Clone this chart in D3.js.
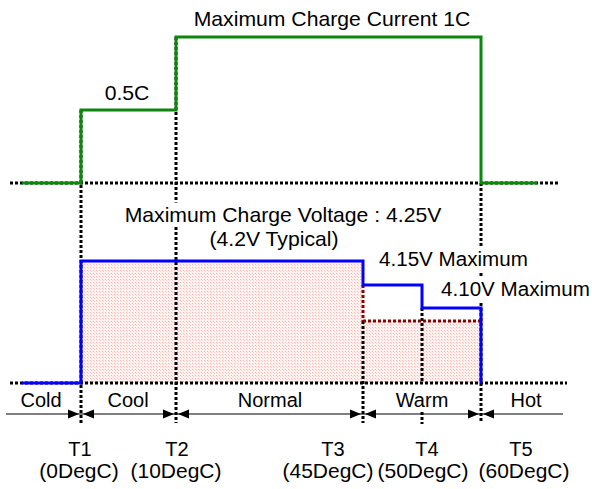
<!DOCTYPE html>
<html>
<head>
<meta charset="utf-8">
<script src="https://cdn.jsdelivr.net/npm/d3@7"></script>
<style>
  html, body { margin: 0; padding: 0; background: #fff; }
  svg { display: block; font-family: "Liberation Sans", Arial, sans-serif; }
</style>
</head>
<body>
<svg id="chart" width="592" height="489"></svg>
<script>
// ---- data ----
const breakTemps = [0, 10, 45, 50, 60];                 // degC at T1..T5
const breakLabels = ["T1", "T2", "T3", "T4", "T5"];
const breakTempLabels = ["(0DegC)", "(10DegC)", "(45DegC)", "(50DegC)", "(60DegC)"];
const zoneNames = ["Cold", "Cool", "Normal", "Warm", "Hot"];
// segments: [<T1], [T1,T2], [T2,T3], [T3,T4], [T4,T5], [>T5]
const chargeCurrentC = [0, 0.5, 1, 1, 1, 0];
const maxVoltage = [0, 4.25, 4.25, 4.15, 4.10, 0];
const filledVoltage = [0, 4.25, 4.25, 4.05, 4.05, 0];
const arrowBreaks = [true, true, true, false, true];

const textLabels = {
  current: "Maximum Charge Current  1C",
  half: "0.5C",
  volt1: "Maximum Charge Voltage : 4.25V",
  volt2: "(4.2V Typical)",
  v415: "4.15V Maximum",
  v410: "4.10V Maximum"
};

// ---- layout ----
const svg = d3.select("#chart");
const leftEnd = -8, rightEnd = 68;
const x = d3.scaleLinear()
  .domain([leftEnd, ...breakTemps, rightEnd])
  .range([22, 81, 176, 363, 422, 481, 537]);
const yC = d3.scaleLinear().domain([0, 1]).range([183, 37]);
const yV = d3.scaleLinear().domain([0, 4.05, 4.10, 4.15, 4.25]).range([383, 321, 308, 285, 261]);

const edges = [leftEnd, ...breakTemps, rightEnd];
const fontSize = 20;

// hatch pattern
const defs = svg.append("defs");
const pat = defs.append("pattern").attr("id", "hatch")
  .attr("patternUnits", "userSpaceOnUse").attr("width", 3).attr("height", 3);
pat.append("rect").attr("width", 3).attr("height", 3).attr("fill", "#fdf2f0");
pat.append("rect").attr("width", 1).attr("height", 1).attr("fill", "#f4b8b0");
pat.append("rect").attr("x", 1).attr("y", 1).attr("width", 1).attr("height", 1).attr("fill", "#f8d2cc");

function dotted(sel, x1, y1, x2, y2, color) {
  sel.append("line").attr("x1", x1).attr("y1", y1).attr("x2", x2).attr("y2", y2)
    .attr("stroke", color || "#000").attr("stroke-width", 3).attr("stroke-dasharray", "3,2");
}

// filled area
const area = d3.area().x(d => d[0]).y0(yV(0)).y1(d => d[1]);
const fillPts = [];
for (let i = 1; i <= 4; i++) {
  fillPts.push([x(edges[i]), yV(filledVoltage[i])]);
  fillPts.push([x(edges[i + 1]), yV(filledVoltage[i])]);
}
svg.append("path").attr("d", area(fillPts)).attr("fill", "url(#hatch)");

const g = svg.append("g");
// horizontal baselines
dotted(g, 10, yC(0), 559, yC(0));
dotted(g, 10, yV(0), 567, yV(0));

// vertical break lines
const arrowY = 414, bottomY = 423;
dotted(g, x(0), yC(0.5), x(0), bottomY);
dotted(g, x(10), yC(1), x(10), bottomY);
dotted(g, x(45), yV(4.05), x(45), bottomY);
dotted(g, x(45), yV(4.15), x(45), yV(4.05), "#8b0000");
dotted(g, x(50), yV(4.10), x(50), yV(0));
dotted(g, x(50), arrowY - 2, x(50), bottomY + 1);
dotted(g, x(60), yC(0), x(60), bottomY);
// reduced voltage dotted line (red)
dotted(g, x(45), yV(4.05), x(60), yV(4.05), "#8b0000");

// text with white backgrounds
function label(txt, cx, by, anchor, bg, sx) {
  const t = svg.append("text").attr("x", 0).attr("y", 0)
    .attr("transform", `translate(${cx},${by}) scale(${sx || 1.06},1)`)
    .attr("text-anchor", anchor || "middle")
    .attr("font-size", fontSize).attr("fill", "#000").text(txt);
  if (bg) {
    const b = t.node().getBBox();
    svg.insert("rect", function () { return t.node(); })
      .attr("transform", t.attr("transform"))
      .attr("x", b.x - 2).attr("y", b.y - 1).attr("width", b.width + 4).attr("height", b.height + 2)
      .attr("fill", "#fff");
  }
  return t;
}

// lines
const stepPts = (vals, yScale, n) => {
  const pts = [];
  for (let i = 0; i < n; i++) {
    pts.push([x(edges[i]), yScale(vals[i])]);
    pts.push([x(edges[i + 1]), yScale(vals[i])]);
  }
  return pts;
};
const line = d3.line();
label(textLabels.current, 332, 26);
label(textLabels.half, 127, 100);
label(textLabels.volt1, 283, 222, "middle", true);
label(textLabels.volt2, 274, 246, "middle", true);
label(textLabels.v415, 379, 266, "start", true, 1.03);
label(textLabels.v410, 441, 296, "start", true, 1.03);

svg.append("path").attr("d", line(stepPts(chargeCurrentC, yC, 6)))
  .attr("fill", "none").attr("stroke", "#0b870b").attr("stroke-width", 3);
const bluePts = stepPts(maxVoltage, yV, 5);
bluePts.push([x(breakTemps[4]), yV(0)]);
svg.append("path").attr("d", line(bluePts))
  .attr("fill", "none").attr("stroke", "#0000ff").attr("stroke-width", 3);

// arrow row
svg.append("line").attr("x1", 6).attr("y1", arrowY).attr("x2", 563).attr("y2", arrowY)
  .attr("stroke", "#000").attr("stroke-width", 1.2);
breakTemps.forEach((t, i) => {
  if (!arrowBreaks[i]) return;
  const cx = x(t);
  svg.append("path").attr("d", `M${cx - 2},${arrowY} L${cx - 13},${arrowY - 4.5} L${cx - 13},${arrowY + 4.5} Z`).attr("fill", "#000");
  svg.append("path").attr("d", `M${cx + 2},${arrowY} L${cx + 13},${arrowY - 4.5} L${cx + 13},${arrowY + 4.5} Z`).attr("fill", "#000");
});

// zone labels
const zoneCenters = [41, 128, 270, 422, 526];
zoneNames.forEach((z, i) => label(z, zoneCenters[i], 407, "middle", false, 1.0));

// break labels
const tNudge = [-1, 1, -30, 5, 40];
const degNudge = [-2, 0, -35, 1, 43];
breakTemps.forEach((t, i) => {
  label(breakLabels[i], x(t) + tNudge[i], 456, "middle", false, 1.0);
  label(breakTempLabels[i], x(t) + degNudge[i], 478, "middle", false, 1.05);
});
</script>
</body>
</html>
